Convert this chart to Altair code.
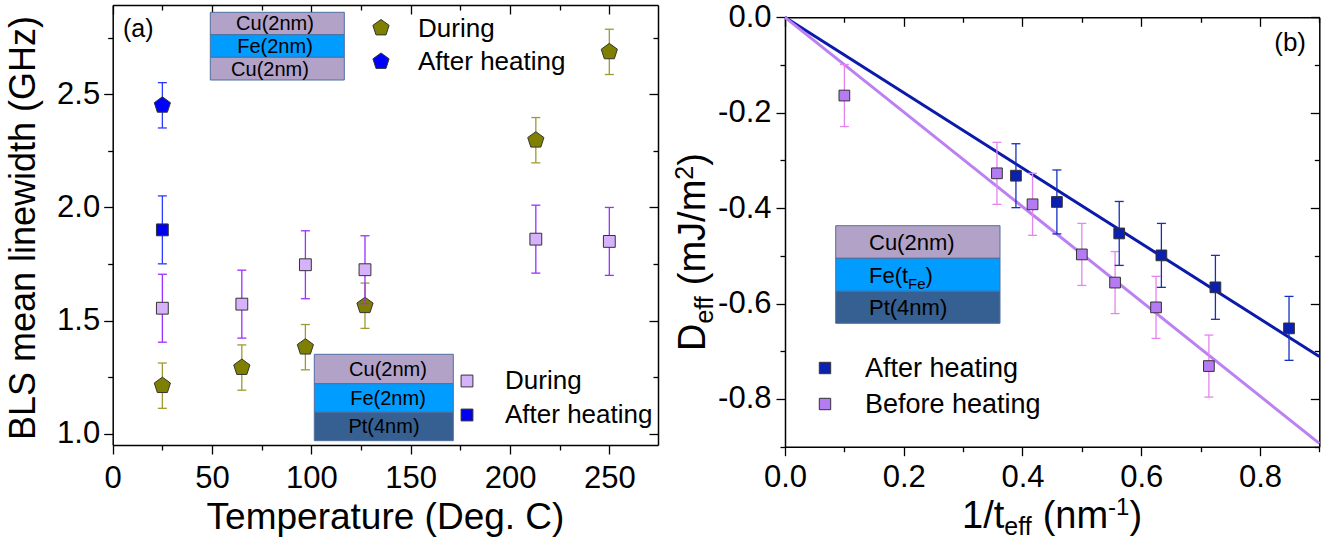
import altair as alt
import pandas as pd

FONT = "Liberation Sans"
PENT = "M0,-1L0.951,-0.309L0.588,0.809L-0.588,0.809L-0.951,-0.309Z"

# ---------------- panel (a) data ----------------
temp_c = [25, 65, 97, 127, 213, 250]
during_pent = [1.213, 1.293, 1.383, 1.566, 2.297, 2.687]
during_pent_err = [0.10, 0.10, 0.10, 0.10, 0.10, 0.10]
during_sq = [1.555, 1.573, 1.747, 1.725, 1.860, 1.850]
during_sq_err = [0.15, 0.15, 0.15, 0.15, 0.15, 0.15]
after_temp = [25]
after_pent = [2.451]
after_pent_err = [0.10]
after_sq = [1.901]
after_sq_err = [0.15]

# ---------------- panel (b) data ----------------
inv_t_before = [0.100, 0.357, 0.417, 0.500, 0.556, 0.625, 0.714]
d_before = [-0.164, -0.327, -0.392, -0.497, -0.556, -0.608, -0.731]
d_before_err = [0.065, 0.065, 0.065, 0.065, 0.065, 0.065, 0.065]
inv_t_after = [0.389, 0.458, 0.563, 0.634, 0.725, 0.849]
d_after = [-0.332, -0.387, -0.453, -0.499, -0.566, -0.652]
d_after_err = [0.067, 0.067, 0.067, 0.067, 0.067, 0.067]
fit_x = [0.0, 0.9]
fit_after = [0.0, -0.711]
fit_before = [0.0, -0.893]

# tick values
a_xticks = [0, 25, 50, 75, 100, 125, 150, 175, 200, 225, 250]
a_yticks = [1.0, 1.25, 1.5, 1.75, 2.0, 2.25, 2.5, 2.75]
b_xticks = [0.0, 0.1, 0.2, 0.3, 0.4, 0.5, 0.6, 0.7, 0.8, 0.9]
b_yticks = [-0.9, -0.8, -0.7, -0.6, -0.5, -0.4, -0.3, -0.2, -0.1, 0.0]

legend_a_top = ["During", "After heating"]
legend_a_bottom = ["During", "After heating"]
legend_b = ["After heating", "Before heating"]

# ---------------- layout ----------------
W, H = 1331, 539
AX0, AX1, AY0, AY1 = 112.7, 658.0, 5.0, 445.0
BX0, BX1, BY0, BY1 = 785.0, 1319.3, 17.3, 446.7

xa = alt.Scale(domain=[0, 274.5], range=[AX0, AX1], nice=False, zero=False)
ya = alt.Scale(domain=[0.951, 2.894], range=[AY1, AY0], nice=False, zero=False)
xb = alt.Scale(domain=[0, 0.9], range=[BX0, BX1], nice=False, zero=False)
yb = alt.Scale(domain=[-0.9, 0.0], range=[BY1, BY0], nice=False, zero=False)

TA_X = "datum.value % 50 === 0"
TA_Y = "round(datum.value * 4) % 2 === 0"
TB = "round(abs(datum.value) * 10) % 2 === 0"


def mk_axis(orient, offset, values, test, labels=True, fmt=None, pad=4, minus=False):
    kw = dict(orient=orient, offset=offset, values=values, grid=False,
              domain=True, domainColor="black", domainWidth=1.5,
              ticks=True, tickColor="black", tickWidth=1.3,
              tickSize={"condition": {"test": test, "value": 9}, "value": 5},
              title=None, labels=labels)
    if labels:
        lab = "replace(datum.label, '\u2212', '-')" if minus else "datum.label"
        kw.update(labelExpr=f"({test}) ? {lab} : ''", labelFont=FONT,
                  labelFontSize=31, labelColor="black", labelPadding=pad,
                  format=fmt, labelOverlap=False, labelFlush=False)
    return alt.Axis(**kw)


def errbars(df, xf, xs, ys, color, ax_x=None, ax_y=None, capw=9, width=1.3):
    xenc = alt.X(xf, scale=xs, axis=ax_x) if ax_x is not None else alt.X(xf, scale=xs, axis=None)
    yenc = alt.Y("lo:Q", scale=ys, axis=ax_y) if ax_y is not None else alt.Y("lo:Q", scale=ys, axis=None)
    rule = alt.Chart(df).mark_rule(color=color, strokeWidth=width).encode(
        x=xenc, y=yenc, y2="hi:Q")
    cap_lo = alt.Chart(df).mark_tick(color=color, orient="horizontal", size=capw,
                                     thickness=width, opacity=1).encode(
        x=alt.X(xf, scale=xs, axis=None), y=alt.Y("lo:Q", scale=ys, axis=None))
    cap_hi = alt.Chart(df).mark_tick(color=color, orient="horizontal", size=capw,
                                     thickness=width, opacity=1).encode(
        x=alt.X(xf, scale=xs, axis=None), y=alt.Y("hi:Q", scale=ys, axis=None))
    return [rule, cap_lo, cap_hi]


def points(df, xf, xs, ys, shape, fill, size, stroke="#333333"):
    return alt.Chart(df).mark_point(shape=shape, filled=True, fill=fill, stroke=stroke,
                                    strokeWidth=1, size=size, opacity=1).encode(
        x=alt.X(xf, scale=xs, axis=None), y=alt.Y("v:Q", scale=ys, axis=None))


def table(xs, vs, es):
    return pd.DataFrame({"x": xs, "v": vs,
                         "lo": [v - e for v, e in zip(vs, es)],
                         "hi": [v + e for v, e in zip(vs, es)]})


ONE = alt.Data(values=[{}])


def txt(s, x, y, size, align="left", baseline="middle", angle=0):
    return alt.Chart(ONE).mark_text(text=s, font=FONT, fontSize=size, align=align,
                                    baseline=baseline, angle=angle, color="black").encode(
        x=alt.value(x), y=alt.value(y))


def sym(x, y, shape, fill, size, stroke="#333333"):
    return alt.Chart(ONE).mark_point(shape=shape, filled=True, fill=fill, stroke=stroke,
                                     strokeWidth=1, size=size, opacity=1).encode(
        x=alt.value(x), y=alt.value(y))


def box(x0, x1, y0, y1, fill, stroke="#4F6F9F"):
    return alt.Chart(ONE).mark_rect(fill=fill, stroke=stroke, strokeWidth=1).encode(
        x=alt.value(x0), x2=alt.value(x1), y=alt.value(y0), y2=alt.value(y1))


CU, FE, PT = "#B2A2C7", "#009CFF", "#366092"

df_pent = table(temp_c, during_pent, during_pent_err)
df_sq = table(temp_c, during_sq, during_sq_err)
df_apent = table(after_temp, after_pent, after_pent_err)
df_asq = table(after_temp, after_sq, after_sq_err)

df_bb = table(inv_t_before, d_before, d_before_err)
df_ba = table(inv_t_after, d_after, d_after_err)
df_fit = pd.DataFrame({"x": fit_x, "after": fit_after, "before": fit_before})

layers = []
# ---- panel (a)
layers += errbars(df_pent, "x:Q", xa, ya, "#9E9A32",
                  ax_x=mk_axis("bottom", AY1 - H, a_xticks, TA_X, fmt="d", pad=9),
                  ax_y=mk_axis("left", -AX0, a_yticks, TA_Y, fmt=".1f", pad=4))
layers.append(points(df_pent, "x:Q", xa, ya, PENT, "#808000", 290))
layers += errbars(df_sq, "x:Q", xa, ya, "#9B30FF",
                  ax_x=mk_axis("bottom", AY0 - H, a_xticks, TA_X, labels=False),
                  ax_y=mk_axis("left", -AX1, a_yticks, TA_Y, labels=False))
layers.append(points(df_sq, "x:Q", xa, ya, "square", "#D7B2FC", 140))
layers += errbars(df_apent, "x:Q", xa, ya, "#2B3BFF")
layers.append(points(df_apent, "x:Q", xa, ya, PENT, "#0000FF", 290))
layers += errbars(df_asq, "x:Q", xa, ya, "#2B3BFF")
layers.append(points(df_asq, "x:Q", xa, ya, "square", "#0000F0", 140))

# ---- panel (b)
layers.append(alt.Chart(df_fit).mark_line(color="#0B1AAA", strokeWidth=3).encode(
    x=alt.X("x:Q", scale=xb, axis=mk_axis("bottom", BY1 - H, b_xticks, TB, fmt=".1f", pad=7)),
    y=alt.Y("after:Q", scale=yb, axis=mk_axis("left", -BX0, b_yticks, TB, fmt=".1f", pad=5, minus=True))))
layers.append(alt.Chart(df_fit).mark_line(color="#BC80F2", strokeWidth=3).encode(
    x=alt.X("x:Q", scale=xb, axis=mk_axis("bottom", BY0 - H, b_xticks, TB, labels=False)),
    y=alt.Y("before:Q", scale=yb, axis=mk_axis("left", -BX1, b_yticks, TB, labels=False))))
layers += errbars(df_bb, "x:Q", xb, yb, "#E684F0")
layers.append(points(df_bb, "x:Q", xb, yb, "square", "#B57BF2", 115))
layers += errbars(df_ba, "x:Q", xb, yb, "#1530C0")
layers.append(points(df_ba, "x:Q", xb, yb, "square", "#0B1FB0", 115))

# ---- insets
layers += [
    box(210.3, 344.3, 12.3, 34.7, CU), box(210.3, 344.3, 34.7, 57.3, FE), box(210.3, 344.3, 57.3, 80.0, CU),
    txt("Cu(2nm)", 275, 23.5, 20, align="center"), txt("Fe(2nm)", 275, 46.5, 20, align="center"),
    txt("Cu(2nm)", 270, 69.5, 20, align="center"),
    box(314.3, 453.3, 354.3, 383.7, CU), box(314.3, 453.3, 383.7, 412.3, FE), box(314.3, 453.3, 412.3, 440.7, PT),
    txt("Cu(2nm)", 388, 369.5, 20, align="center"), txt("Fe(2nm)", 388, 398.5, 20, align="center"),
    txt("Pt(4nm)", 384, 427, 20, align="center"),
    box(835.7, 1000.0, 225.7, 258.3, CU), box(835.7, 1000.0, 258.3, 291.3, FE), box(835.7, 1000.0, 291.3, 323.3, PT),
    txt("Cu(2nm)", 869, 242.5, 22), txt("Fe(t", 869, 282.5, 22, baseline="alphabetic"),
    txt("Fe", 908, 288.5, 15, baseline="alphabetic"), txt(")", 925.5, 282.5, 22, baseline="alphabetic"),
    txt("Pt(4nm)", 869, 307.5, 22),
]

# ---- legends and panel labels
layers += [
    sym(381, 28, PENT, "#808000", 290), sym(381, 61.5, PENT, "#0000FF", 290),
    txt(legend_a_top[0], 418, 29, 26), txt(legend_a_top[1], 418, 62, 26),
    sym(467, 381, "square", "#D7B2FC", 140), sym(467, 415, "square", "#0000F0", 140),
    txt(legend_a_bottom[0], 505, 381, 26), txt(legend_a_bottom[1], 505, 415, 26),
    sym(825, 368, "square", "#0B1FB0", 130), sym(825, 404, "square", "#B57BF2", 130),
    txt(legend_b[0], 865, 369, 27), txt(legend_b[1], 865, 405, 27),
    txt("(a)", 123, 29, 25), txt("(b)", 1306, 43, 26, align="right"),
]

# ---- axis titles
layers += [
    txt("BLS mean linewidth (GHz)", 35, 228, 36, align="center", baseline="alphabetic", angle=270),
    txt("Temperature (Deg. C)", 385.5, 529, 37, align="center", baseline="alphabetic"),
    # 1/t_eff (nm^-1)
    txt("1/t", 962, 528, 38, baseline="alphabetic"),
    txt("eff", 1004.3, 535, 25, baseline="alphabetic"),
    txt("(nm", 1042.7, 528, 38, baseline="alphabetic"),
    txt("-1", 1108.1, 515, 24, baseline="alphabetic"),
    txt(")", 1129.5, 528, 38, baseline="alphabetic"),
    # D_eff (mJ/m^2)
    txt("D", 705, 351, 38, baseline="alphabetic", angle=270),
    txt("eff", 713, 323.6, 25, baseline="alphabetic", angle=270),
    txt("(mJ/m", 705, 285.2, 38, baseline="alphabetic", angle=270),
    txt("2", 693, 179.7, 25, baseline="alphabetic", angle=270),
    txt(")", 705, 165.8, 38, baseline="alphabetic", angle=270),
]

chart = alt.layer(*layers).resolve_scale(x="independent", y="independent").resolve_axis(
    x="independent", y="independent").properties(
    width=W, height=H, autosize=alt.AutoSizeParams(type="none"), padding=0,
    background="white").configure_view(stroke=None)

chart.save("out.html", embed_options={"renderer": "svg", "actions": False})
